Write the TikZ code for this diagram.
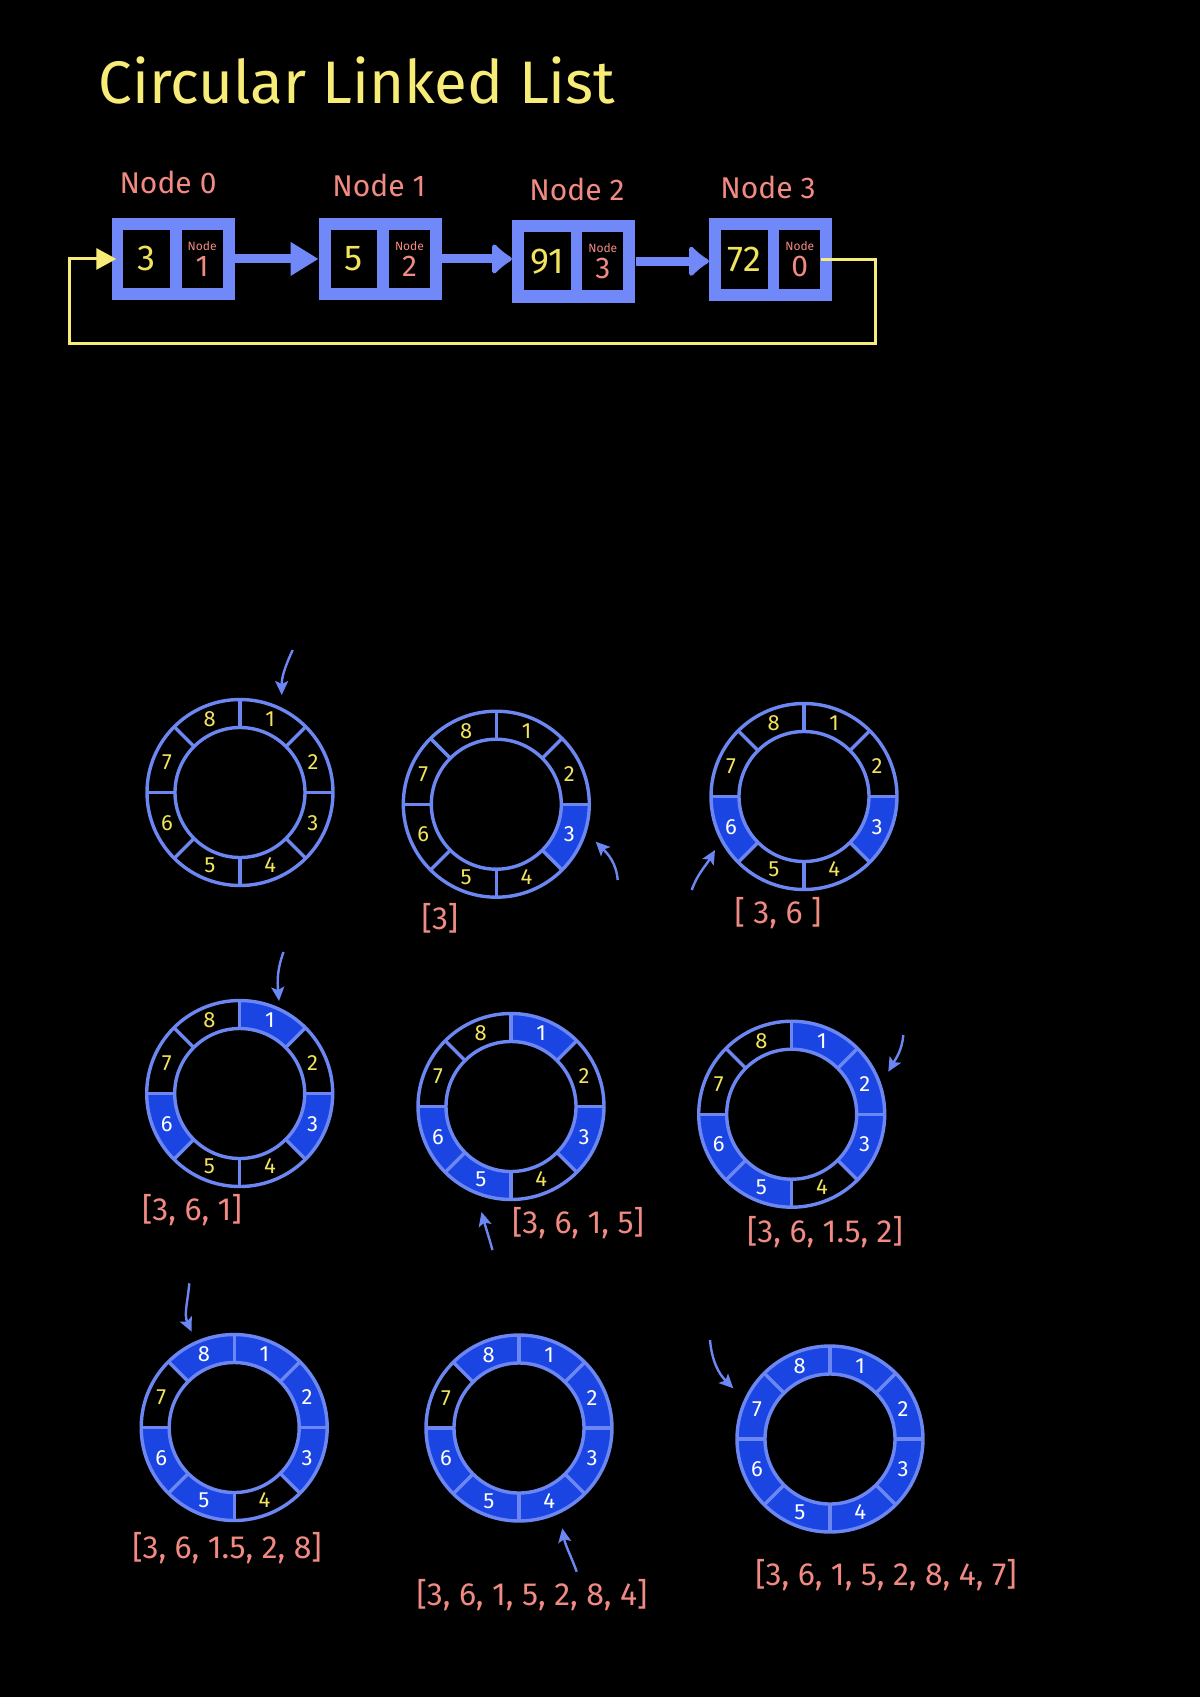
\documentclass[tikz,border=0pt]{standalone}
\usepackage{fontspec}
\setmainfont{Fira Sans}
\usetikzlibrary{arrows.meta,calc}
\definecolor{ringblue}{HTML}{6D87F2}
\definecolor{fillblue}{HTML}{1A45E2}
\definecolor{labyel}{HTML}{F2E35E}
\definecolor{pinkc}{HTML}{F08A82}
\definecolor{titleyel}{HTML}{F7EC78}
\definecolor{boxblue}{HTML}{7189F8}
\tikzset{
  ringline/.style={draw=ringblue,line width=1.7pt},
  segfillst/.style={fill=fillblue},
  seglab/.style={font=\fontsize{11}{11}\selectfont,inner sep=0pt},
  plabel/.style={text=pinkc,font=\fontsize{16}{16}\selectfont,inner sep=0pt},
  ptr/.style={draw=ringblue,line width=1.2pt,-{Stealth[length=7pt,width=6.5pt,inset=1.5pt]}},
  llbox/.style={fill=boxblue,minimum width=61.5pt,minimum height=41.25pt,inner sep=0pt},
  vcell/.style={fill=black,minimum width=23.3pt,minimum height=29.2pt,inner sep=0pt,text=labyel,font=\fontsize{18}{18}\selectfont},
  pcell/.style={fill=black,minimum width=20.4pt,minimum height=29.2pt,inner sep=0pt,text=pinkc,align=center},
  lltitle/.style={text=pinkc,font=\fontsize{15}{15}\selectfont,inner sep=0pt},
  llarrowa/.style={draw=boxblue,line width=4.5pt,-{Triangle[length=14pt,width=16pt]}},
  llarrowb/.style={draw=boxblue,line width=4.5pt,-{Latex[round,length=11pt,width=19pt]}},
  loopline/.style={draw=titleyel,line width=1.5pt,-{Triangle[length=10pt,width=10.5pt]}}
}
% ring: #1 name, #2 x, #3 y, #4 flags for segments 1..8
\newcommand{\cring}[4]{%
  \coordinate (#1c) at (#2,#3);
  \foreach \k in {1,...,8}{%
    \pgfmathtruncatemacro\isf{{#4}[\k-1]}%
    \ifnum\isf=1
      \pgfmathsetmacro\sa{90-45*(\k-1)}%
      \pgfmathsetmacro\ea{90-45*\k}%
      \fill[segfillst] ($(#1c)+(\sa:93)$) arc[start angle=\sa,end angle=\ea,radius=93]
        -- ($(#1c)+(\ea:65)$) arc[start angle=\ea,end angle=\sa,radius=65] -- cycle;
    \fi
  }
  \draw[ringline] (#1c) circle[radius=93];
  \draw[ringline] (#1c) circle[radius=65];
  \foreach \a in {0,45,...,315}{\draw[ringline] ($(#1c)+(\a:65)$) -- ($(#1c)+(\a:93)$);}
  \foreach \k in {1,...,8}{%
    \pgfmathtruncatemacro\isf{{#4}[\k-1]}%
    \pgfmathsetmacro\ma{112.5-45*\k}%
    \ifnum\isf=1 \def\lc{white}\else\def\lc{labyel}\fi
    \node[seglab,text=\lc] (#1-\k) at ($(#1c)+(\ma:79)$) {\k};
  }
}
% linked-list node: #1 name, #2 L, #3 T, #4 value, #5 pointer digit, #6 title, #7 title x, #8 title y
\newcommand{\llnode}[8]{%
  \node[llbox] (#1) at (#2+61.5,-#3-41.25) {};
  \node[vcell] (#1v) at (#2+35,-#3-41.25) {#4};
  \node[pcell] (#1p) at (#2+90.5,-#3-41.25) {{\fontsize{6}{6}\selectfont Node}\\[1pt]{\fontsize{15}{15}\selectfont #5}};
  \node[lltitle] (#1t) at (#7,-#8) {#6};
}
\begin{document}
\begin{tikzpicture}[x=0.5pt,y=0.5pt]
\useasboundingbox (0,0) rectangle (1200,-1697);
\fill[black] (0,0) rectangle (1200,-1697);

% title
\node[text=titleyel,font=\fontsize{30}{30}\selectfont,inner sep=0pt] (title) at (357,-80) {Circular Linked List};

% linked list
\llnode{n0}{111.7}{217.7}{3}{1}{Node 0}{168}{182}
\llnode{n1}{319}{217.7}{5}{2}{Node 1}{379}{185}
\llnode{n2}{512.3}{220}{91}{3}{Node 2}{577}{189}
\llnode{n3}{709.3}{218.3}{72}{0}{Node 3}{768}{187}
\draw[llarrowa] (n0.east) -- (n1.west);
\draw[llarrowb] (n1.east) -- (n1.east -| n2.west);
\draw[llarrowb] (n2.east) -- (n2.east -| n3.west);
\coordinate (lr) at (875,-343.3);
\coordinate (ll) at (69.3,-343.3);
\draw[loopline,shorten >=-2.5pt] (n3p.east) -| (lr) -- (ll) |- (n0.west);

% rings
\cring{A}{240}{-792.5}{0,0,0,0,0,0,0,0}
\cring{B}{496.3}{-804.2}{0,0,1,0,0,0,0,0}
\cring{C}{804}{-796.5}{0,0,1,0,0,1,0,0}
\cring{D}{239.7}{-1093.5}{1,0,1,0,0,1,0,0}
\cring{E}{511}{-1106.5}{1,0,1,0,1,1,0,0}
\cring{F}{791.7}{-1114.2}{1,1,1,0,1,1,0,0}
\cring{G}{234.2}{-1427.5}{1,1,1,0,1,1,0,1}
\cring{H}{519}{-1428}{1,1,1,1,1,1,0,1}
\cring{I}{830}{-1439}{1,1,1,1,1,1,1,1}

% pointer arrows
\coordinate (As) at (292.7,-650);   \coordinate (At) at (281.7,-695);
\coordinate (Bs) at (617.7,-880);   \coordinate (Bt) at (595.7,-841.7);
\coordinate (Cs) at (691.7,-890);   \coordinate (Ct) at (715,-850);
\coordinate (Ds) at (283.5,-952);   \coordinate (Dt) at (279,-1001);
\coordinate (Es) at (492.4,-1250);  \coordinate (Et) at (481.5,-1212);
\coordinate (Fs) at (903.3,-1035);  \coordinate (Ft) at (888.3,-1071.7);
\coordinate (Gs) at (189.3,-1283.3);\coordinate (Gt) at (191.7,-1331.7);
\coordinate (Hs) at (576.7,-1571.7);\coordinate (Ht) at (562.3,-1528.3);
\coordinate (Is) at (710,-1340);    \coordinate (It) at (733.3,-1388.3);
\draw[ptr] (As) to[out=245,in=90] (At);
\draw[ptr] (Bs) to[out=95,in=-45] (Bt);
\draw[ptr] (Cs) to[out=70,in=240] (Ct);
\draw[ptr] (Ds) to[out=250,in=95] (Dt);
\draw[ptr] (Es) to[out=105,in=-75] (Et);
\draw[ptr] (Fs) to[out=265,in=60] (Ft);
\draw[ptr] (Gs) to[out=265,in=115] (Gt);
\draw[ptr] (Hs) to[out=110,in=-80] (Ht);
\draw[ptr] (Is) to[out=275,in=135] (It);

% result lists
\node[plabel] (Bl) at (440,-918) {[3]};
\node[plabel] (Cl) at (778,-913) {[ 3, 6 ]};
\node[plabel] (Dl) at (192,-1210) {[3, 6, 1]};
\node[plabel] (El) at (578,-1223) {[3, 6, 1, 5]};
\node[plabel] (Fl) at (825,-1232) {[3, 6, 1.5, 2]};
\node[plabel] (Gl) at (227,-1548) {[3, 6, 1.5, 2, 8]};
\node[plabel] (Hl) at (532,-1595) {[3, 6, 1, 5, 2, 8, 4]};
\node[plabel] (Il) at (886,-1575) {[3, 6, 1, 5, 2, 8, 4, 7]};
\end{tikzpicture}
\end{document}
